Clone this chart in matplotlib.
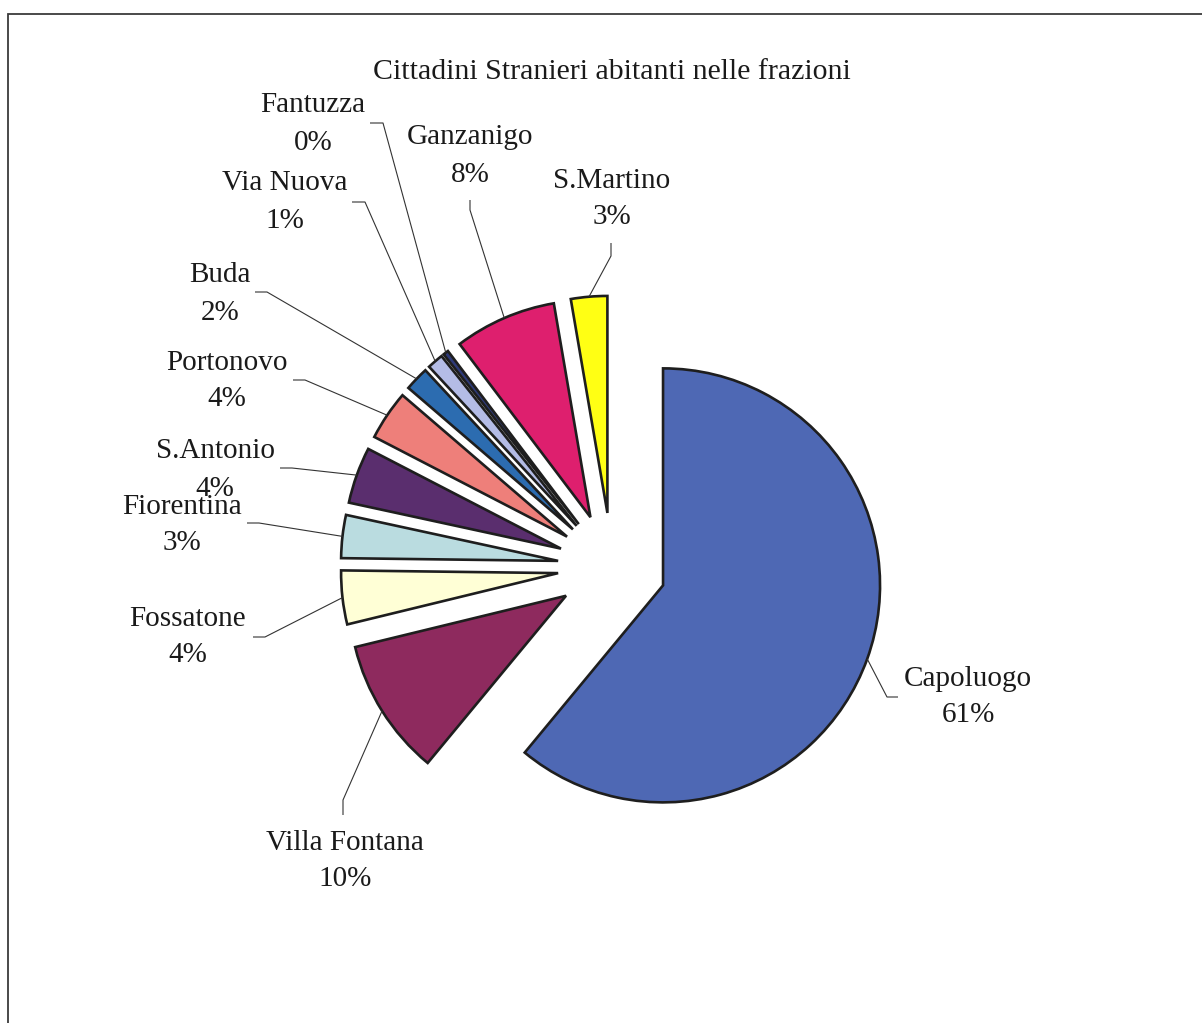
import numpy as np
import matplotlib
matplotlib.use("Agg")
import matplotlib.pyplot as plt
from matplotlib.patches import Rectangle

W, H = 1202, 1023

# share of foreign residents per village (%)
frazioni = ["Capoluogo", "Villa Fontana", "Fossatone", "Fiorentina", "S.Antonio",
            "Portonovo", "Buda", "Via Nuova", "Fantuzza", "Ganzanigo", "S.Martino"]
quote = [61.0, 10.2, 4.0, 3.2, 4.2, 3.7, 1.8, 1.2, 0.4, 7.6, 2.7]
colori = ["#4E68B4", "#8E2A5E", "#FFFFD6", "#BADCE0", "#5A2E6E", "#EE7F7A",
          "#2C6CB0", "#B4BCE6", "#2E3A78", "#DE1F6E", "#FFFF14"]

# label centres and leader elbows in pixel coords (y down)
pos_etichette = [(968, 697), (345, 861), (188, 637), (182, 525), (215, 470),
                 (227, 381), (220, 294), (285, 202), (313, 124), (470, 156),
                 (612, 199)]
gomiti = [((898, 697), (887, 697)), ((343, 815), (343, 800)),
          ((253, 637), (265, 637)), ((247, 523), (259, 523)),
          ((280, 468), (292, 468)), ((293, 380), (305, 380)),
          ((255, 292), (267, 292)), ((352, 202), (365, 202)),
          ((370, 123), (383, 123)), ((470, 200), (470, 210)),
          ((611, 243), (611, 256))]

plt.rcParams['font.family'] = ['Liberation Serif', 'DejaVu Serif']

fig = plt.figure(figsize=(W / 100, H / 100), dpi=100)
ax = fig.add_axes([0, 0, 1, 1])


def fy(y):
    return H - y


centro = (612, fy(567))
raggio = 217
# pie explode is in data units here, so scale it by the radius
esplodi = 0.25 * raggio

wedges, _ = ax.pie(quote, colors=colori, startangle=90, counterclock=False,
                   explode=[esplodi] * len(quote), radius=raggio, center=centro,
                   wedgeprops=dict(edgecolor="#1e1e1e", linewidth=1.9),
                   frame=True)
ax.set_xlim(0, W)
ax.set_ylim(0, H)
ax.set_aspect('equal')
ax.axis('off')

for w, nome, q, (lx, ly), (p0, p1) in zip(wedges, frazioni, quote,
                                          pos_etichette, gomiti):
    # leader line ends at the middle of the wedge's arc
    mid = np.deg2rad((w.theta1 + w.theta2) / 2)
    cx, cy = w.center
    ex, ey = cx + w.r * np.cos(mid), cy + w.r * np.sin(mid)
    ax.plot([p0[0], p1[0], ex], [fy(p0[1]), fy(p1[1]), ey],
            color="#333333", lw=0.8, solid_capstyle='butt')
    ax.text(lx, fy(ly), f"{nome}\n{q:.0f}%", ha='center', va='center',
            fontsize=21, color="#1a1a1a", linespacing=1.55)

ax.text(612, fy(72), "Cittadini Stranieri abitanti nelle frazioni",
        ha='center', va='center', fontsize=21.5, color="#1a1a1a")

# chart area border
ax.add_patch(Rectangle((8, fy(1040)), 1220, 1026, fill=False,
                       edgecolor="#3a3a3a", lw=1.3, clip_on=False))

fig.savefig("out.png", dpi=100, facecolor="white")
